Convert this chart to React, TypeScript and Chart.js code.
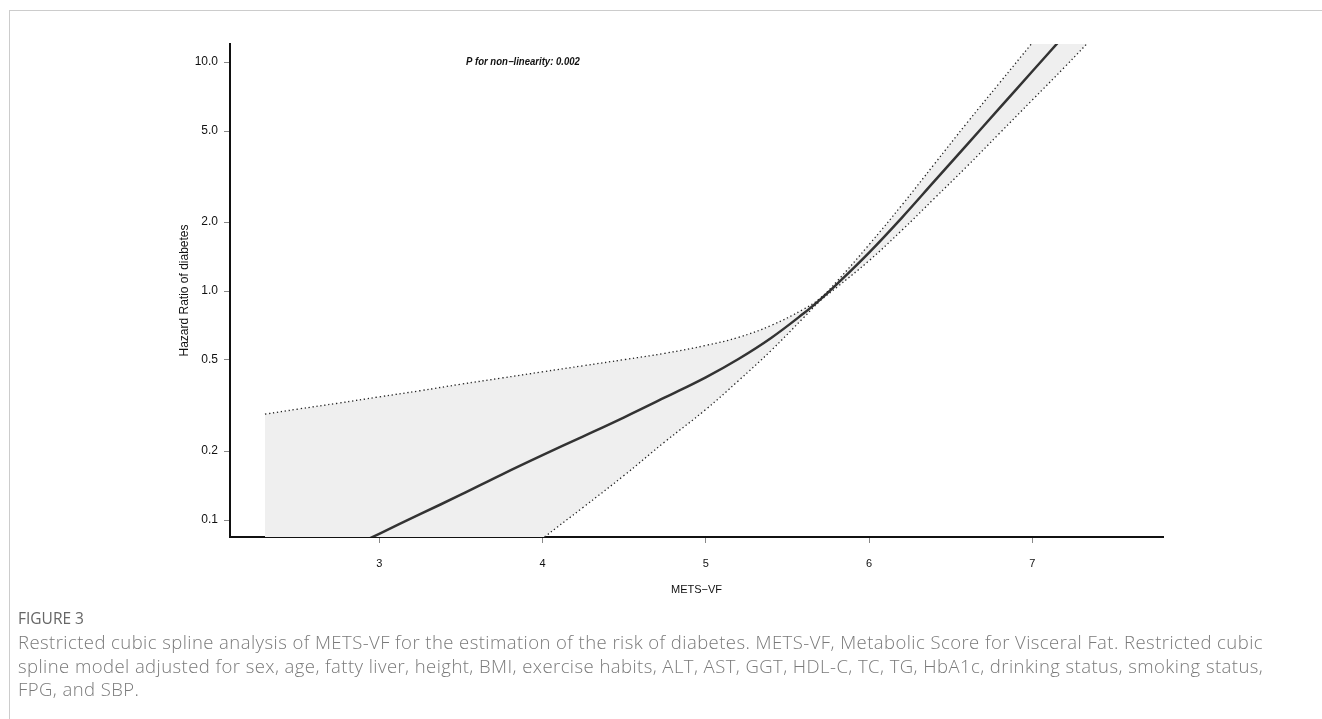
import React, { useEffect, useLayoutEffect, useRef } from "react";
import { Chart, registerables } from "chart.js";

Chart.register(...registerables);

// ---- data ----
const METS_VF = [2.3, 2.5, 2.75, 3.0, 3.25, 3.5, 3.75, 4.0, 4.25, 4.5, 4.75, 5.0, 5.2, 5.4, 5.6, 5.7, 5.8, 6.0, 6.2, 6.4, 6.6, 6.8, 7.0, 7.2, 7.4];
const HR = [0.0499, 0.0585, 0.0714, 0.0871, 0.106, 0.129, 0.158, 0.192, 0.232, 0.281, 0.343, 0.42, 0.505, 0.624, 0.8, 0.918, 1.067, 1.472, 2.089, 3.02, 4.365, 6.31, 9.12, 13.18, 19.05];
const HR_UPPER = [0.29, 0.305, 0.324, 0.345, 0.367, 0.392, 0.417, 0.444, 0.472, 0.502, 0.535, 0.579, 0.628, 0.708, 0.834, 0.931, 1.096, 1.596, 2.371, 3.589, 5.433, 8.128, 12.16, 18.2, 26.9];
const HR_LOWER = [0.00859, 0.0112, 0.0157, 0.022, 0.0307, 0.0428, 0.0597, 0.083, 0.1138, 0.1567, 0.2198, 0.304, 0.406, 0.55, 0.767, 0.906, 1.035, 1.358, 1.841, 2.541, 3.508, 4.898, 6.839, 9.55, 13.49];

const X_TICKS = [3, 4, 5, 6, 7];
const X_MIN = 2.086;
const X_MAX = 7.8;
const Y_TICKS = [0.1, 0.2, 0.5, 1, 2, 5, 10];
const Y_TICK_LABELS = ["0.1", "0.2", "0.5", "1.0", "2.0", "5.0", "10.0"];
const Y_MIN = 0.0843;
const Y_MAX = 12;

const X_TITLE = "METS\u2212VF";
const Y_TITLE = "Hazard Ratio of diabetes";
const P_LABEL = "P for non\u2212linearity: 0.002";
const P_LABEL_X = 3.88;
const P_LABEL_Y = 10;

const FIG_LABEL = "FIGURE 3";
const CAPTION_LINES = [
  "Restricted cubic spline analysis of METS-VF for the estimation of the risk of diabetes. METS-VF, Metabolic Score for Visceral Fat. Restricted cubic",
  "spline model adjusted for sex, age, fatty liver, height, BMI, exercise habits, ALT, AST, GGT, HDL-C, TC, TG, HbA1c, drinking status, smoking status,",
  "FPG, and SBP.",
];
const CAPTION_FIRST_LINE_WIDTH = 1245;

const FONT = '"Liberation Sans", Arial, Helvetica, sans-serif';

const pAnnotation = {
  id: "pAnnotation",
  afterDatasetsDraw(chart: any) {
    const { ctx, scales } = chart;
    const x = scales.x.getPixelForValue(P_LABEL_X);
    const y = scales.y.getPixelForValue(P_LABEL_Y);
    ctx.save();
    ctx.font = `italic bold 10px ${FONT}`;
    ctx.fillStyle = "#111";
    ctx.textAlign = "center";
    ctx.textBaseline = "middle";
    ctx.fillText(P_LABEL, x, y, 114);
    ctx.restore();
  },
};

export default function App() {
  const canvasRef = useRef<HTMLCanvasElement>(null);
  const lineRefs = useRef<(HTMLDivElement | null)[]>([]);

  useLayoutEffect(() => {
    const first = lineRefs.current[0];
    if (!first) return;
    const w = first.getBoundingClientRect().width;
    const n = CAPTION_LINES[0].length;
    const ls = (CAPTION_FIRST_LINE_WIDTH - w) / n;
    lineRefs.current.forEach((el) => {
      if (el) el.style.letterSpacing = `${ls}px`;
    });
  }, []);

  useEffect(() => {
    if (!canvasRef.current) return;
    Chart.defaults.font.family = FONT;
    const pts = (ys: number[]) => METS_VF.map((x, i) => ({ x, y: ys[i] }));
    const chart = new Chart(canvasRef.current, {
      type: "line",
      data: {
        datasets: [
          {
            data: pts(HR_UPPER),
            borderColor: "#222",
            borderWidth: 1.3,
            borderDash: [1.3, 2.7],
            pointRadius: 0,
            fill: "+1",
            backgroundColor: "#efefef",
            tension: 0.4,
          },
          {
            data: pts(HR_LOWER),
            borderColor: "#222",
            borderWidth: 1.3,
            borderDash: [1.3, 2.7],
            pointRadius: 0,
            fill: false,
            tension: 0.4,
          },
          {
            data: pts(HR),
            borderColor: "#333",
            borderWidth: 2.5,
            pointRadius: 0,
            fill: false,
            tension: 0.4,
          },
        ],
      },
      options: {
        responsive: false,
        animation: false,
        devicePixelRatio: 1,
        layout: { padding: { left: 173, top: 44, right: 159, bottom: 118 } },
        plugins: {
          legend: { display: false },
          tooltip: { enabled: false },
          filler: { drawTime: "beforeDatasetsDraw" },
        },
        scales: {
          x: {
            type: "linear",
            min: X_MIN,
            max: X_MAX,
            afterBuildTicks: (s: any) => {
              s.ticks = X_TICKS.map((v) => ({ value: v }));
            },
            afterFit: (s: any) => {
              s.height = 64;
            },
            grid: { drawOnChartArea: false, drawTicks: true, tickLength: 6, color: "#888", lineWidth: 1 },
            border: { display: true, color: "#111", width: 2 },
            ticks: {
              padding: 14,
              color: "#111",
              font: { size: 11 },
              maxRotation: 0,
              callback: (v: any) => String(v),
            },
            title: { display: true, text: X_TITLE, color: "#111", font: { size: 11 }, padding: { top: 4, bottom: 4 } },
          },
          y: {
            type: "logarithmic",
            min: Y_MIN,
            max: Y_MAX,
            afterBuildTicks: (s: any) => {
              s.ticks = Y_TICKS.map((v) => ({ value: v }));
            },
            afterFit: (s: any) => {
              s.width = 57;
            },
            grid: { drawOnChartArea: false, drawTicks: true, tickLength: 6, color: "#888", lineWidth: 1 },
            border: { display: true, color: "#111", width: 2 },
            ticks: {
              padding: 6,
              color: "#111",
              font: { size: 12 },
              callback: (_v: any, i: number) => Y_TICK_LABELS[i],
            },
            title: { display: true, text: Y_TITLE, color: "#111", font: { size: 12 }, padding: { top: 4, bottom: 4 } },
          },
        },
      },
      plugins: [pAnnotation],
    } as any);
    return () => chart.destroy();
  }, []);

  const captionStyle: React.CSSProperties = {
    position: "absolute",
    left: 18,
    whiteSpace: "nowrap",
    fontFamily: '"Open Sans", Lato, sans-serif',
    fontWeight: 300,
    fontSize: 18.5,
    lineHeight: "23px",
    color: "#7a7a7a",
  };

  return (
    <div style={{ position: "fixed", left: 0, top: 0, width: 1322, height: 719, overflow: "hidden", background: "#fff" }}>
      <div
        style={{
          position: "absolute",
          left: 9,
          top: 10,
          width: 1313,
          height: 709,
          borderTop: "1px solid #cccccc",
          borderLeft: "1px solid #cccccc",
        }}
      />
      <canvas ref={canvasRef} width={1322} height={719} style={{ position: "absolute", left: 0, top: 0 }} />
      <div style={{ ...captionStyle, top: 607, fontSize: 15.5, color: "#666", fontWeight: 400 }}>{FIG_LABEL}</div>
      {CAPTION_LINES.map((line, i) => (
        <div
          key={i}
          ref={(el) => {
            lineRefs.current[i] = el;
          }}
          style={{ ...captionStyle, top: 630 + i * 23.5 }}
        >
          {line}
        </div>
      ))}
    </div>
  );
}
